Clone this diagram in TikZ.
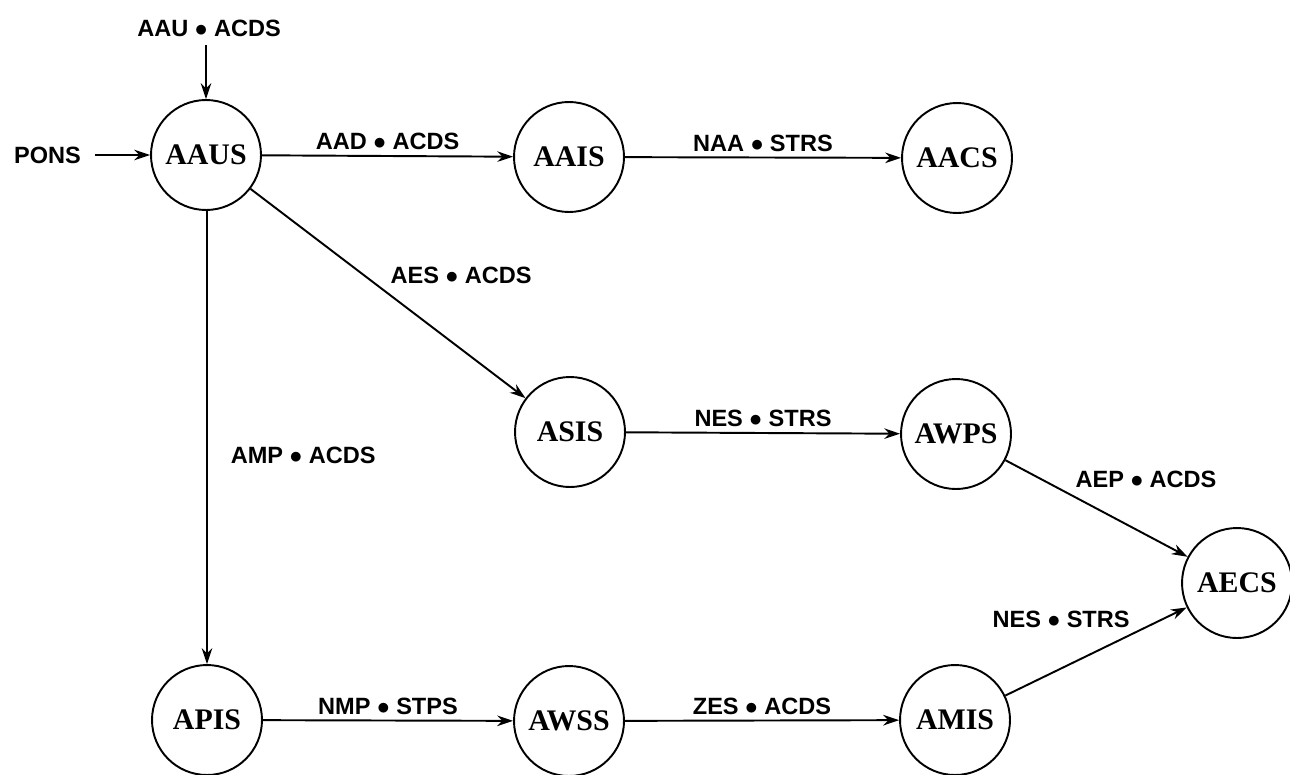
\documentclass[tikz,border=0pt]{standalone}
\usepackage{fontspec}
\setmainfont{Liberation Serif}
\newfontfamily\labfont{Liberation Sans}
\usetikzlibrary{arrows.meta}
\tikzset{
  state/.style={circle, draw, line width=1.1pt, minimum size=2.2cm, inner sep=0pt,
    font=\fontsize{17}{19}\selectfont\bfseries},
  lab/.style={font=\labfont\fontsize{13.4}{15}\selectfont\bfseries, inner sep=1pt},
  flow/.style={line width=1.1pt, -{Stealth[length=9pt,width=6pt]}},
}
\begin{document}
\begin{tikzpicture}[x=0.02cm, y=-0.02cm]
\useasboundingbox (0,0) rectangle (1290,774);
\node[state] (AAUS) at (206,155) {AAUS};
\node[state] (AAIS) at (569,157) {AAIS};
\node[state] (AACS) at (957,158) {AACS};
\node[state] (ASIS) at (570,432) {ASIS};
\node[state] (AWPS) at (956,434) {AWPS};
\node[state] (AECS) at (1237,583) {AECS};
\node[state] (APIS) at (207,720) {APIS};
\node[state] (AWSS) at (569,721) {AWSS};
\node[state] (AMIS) at (955,720) {AMIS};

\node[lab] (in1) at (209,28) {AAU $\bullet$ ACDS};
\node[lab, anchor=west] (pons) at (12,155) {PONS};
\coordinate (in1s) at (206,45);
\coordinate (ponse) at (95,155);

\draw[flow] (in1s) -- (AAUS);
\draw[flow] (ponse) -- (AAUS);
\draw[flow] (AAUS) -- node[lab, above, yshift=2pt] {AAD $\bullet$ ACDS} (AAIS);
\draw[flow] (AAIS) -- node[lab, above, yshift=2pt] {NAA $\bullet$ STRS} (AACS);
\draw[flow] (AAUS) -- node[lab, pos=0.5, anchor=south west, yshift=4pt] {AES $\bullet$ ACDS} (ASIS);
\draw[flow] (AAUS.south -| APIS.north) -- node[lab, pos=0.54, anchor=west, xshift=12pt] {AMP $\bullet$ ACDS} (APIS);
\draw[flow] (ASIS) -- node[lab, above, yshift=2pt] {NES $\bullet$ STRS} (AWPS);
\draw[flow] (AWPS) -- node[lab, pos=0.37, anchor=south west, yshift=3pt] {AEP $\bullet$ ACDS} (AECS);
\draw[flow] (APIS) -- node[lab, above, yshift=2pt] {NMP $\bullet$ STPS} (AWSS);
\draw[flow] (AWSS) -- node[lab, above, yshift=2pt] {ZES $\bullet$ ACDS} (AMIS);
\draw[flow] (AMIS) -- node[lab, pos=0.7, anchor=south east, yshift=2pt] {NES $\bullet$ STRS} (AECS);
\end{tikzpicture}
\end{document}
